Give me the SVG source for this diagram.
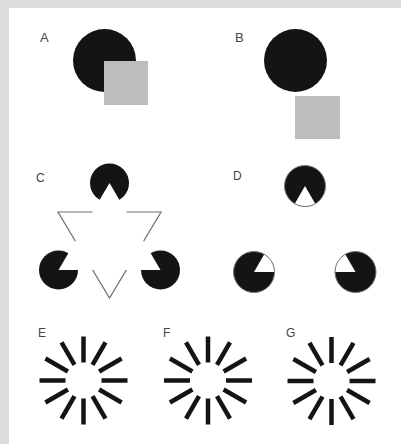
<svg xmlns="http://www.w3.org/2000/svg" xmlns:xlink="http://www.w3.org/1999/xlink" width="401" height="444" viewBox="0 0 401 444">
<style>
.lbl{font-family:"Liberation Sans",Arial,sans-serif;font-size:13px;fill:#444}
.blk{fill:#141414}
.sq{fill:#bdbdbf}
.sp{stroke:#141414;stroke-width:4.5;stroke-linecap:butt}
.tri{fill:none;stroke:#6f6f6f;stroke-width:1.2}
.ring{fill:none;stroke:#777;stroke-width:1}
</style>
<defs>
<g id="burst">
<line class="sp" x1="18" y1="0" x2="44" y2="0"/>
<line class="sp" x1="18" y1="0" x2="44" y2="0" transform="rotate(30)"/>
<line class="sp" x1="18" y1="0" x2="44" y2="0" transform="rotate(60)"/>
<line class="sp" x1="18" y1="0" x2="44" y2="0" transform="rotate(90)"/>
<line class="sp" x1="18" y1="0" x2="44" y2="0" transform="rotate(120)"/>
<line class="sp" x1="18" y1="0" x2="44" y2="0" transform="rotate(150)"/>
<line class="sp" x1="18" y1="0" x2="44" y2="0" transform="rotate(180)"/>
<line class="sp" x1="18" y1="0" x2="44" y2="0" transform="rotate(210)"/>
<line class="sp" x1="18" y1="0" x2="44" y2="0" transform="rotate(240)"/>
<line class="sp" x1="18" y1="0" x2="44" y2="0" transform="rotate(270)"/>
<line class="sp" x1="18" y1="0" x2="44" y2="0" transform="rotate(300)"/>
<line class="sp" x1="18" y1="0" x2="44" y2="0" transform="rotate(330)"/>
</g>
</defs>
<rect width="401" height="444" fill="#dcdcdf"/>
<rect x="9" y="8" width="392" height="436" fill="#ffffff"/>

<g id="A">
<text class="lbl" x="40" y="42">A</text>
<circle class="blk" cx="104.5" cy="60.5" r="31.5"/>
<rect class="sq" x="104" y="61" width="44" height="44"/>
</g>

<g id="B">
<text class="lbl" x="235" y="42">B</text>
<circle class="blk" cx="295.5" cy="60.5" r="31.5"/>
<rect class="sq" x="295" y="96" width="45" height="43"/>
</g>

<g id="C">
<text class="lbl" x="36" y="182" style="font-size:12px">C</text>
<polygon class="tri" points="58,212 161,212 109.5,298"/>
<circle class="blk" cx="109.5" cy="183" r="19.5"/>
<circle class="blk" cx="58.5" cy="270" r="19.5"/>
<circle class="blk" cx="160.5" cy="270" r="19.5"/>
<polygon fill="#ffffff" points="109.5,183 58.5,270 160.5,270"/>
</g>

<g id="D">
<text class="lbl" x="233" y="180" style="font-size:12px">D</text>
<circle class="blk" cx="305" cy="186" r="20.5"/>
<path fill="#ffffff" d="M305,186 L315.25,203.75 A20.5,20.5 0 0 1 294.75,203.75 Z"/>
<circle class="ring" cx="305" cy="186" r="20.5"/>
<circle class="blk" cx="254" cy="272" r="20.5"/>
<path fill="#ffffff" d="M254,272 L264.25,254.25 A20.5,20.5 0 0 1 274.5,272 Z"/>
<circle class="ring" cx="254" cy="272" r="20.5"/>
<circle class="blk" cx="355.5" cy="272" r="20.5"/>
<path fill="#ffffff" d="M355.5,272 L335,272 A20.5,20.5 0 0 1 345.25,254.25 Z"/>
<circle class="ring" cx="355.5" cy="272" r="20.5"/>
</g>

<g id="E">
<text class="lbl" x="38" y="337" style="font-size:12px">E</text>
<use xlink:href="#burst" transform="translate(83.5,380.5)"/>
</g>

<g id="F">
<text class="lbl" x="163" y="337" style="font-size:12px">F</text>
<use xlink:href="#burst" transform="translate(208,380.5)"/>
</g>

<g id="G">
<text class="lbl" x="286" y="337" style="font-size:12px">G</text>
<use xlink:href="#burst" transform="translate(331.5,381)"/>
</g>
</svg>
